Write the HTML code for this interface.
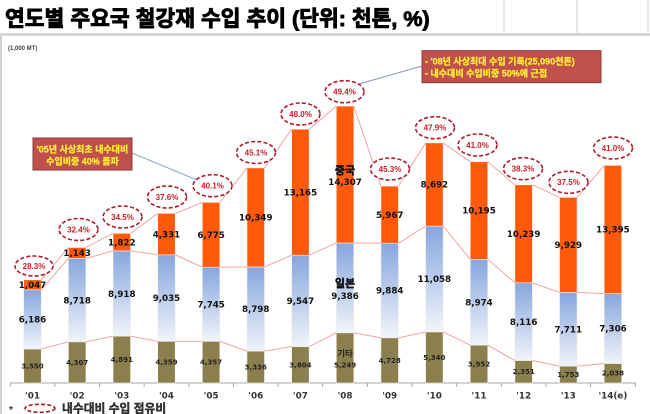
<!DOCTYPE html>
<html>
<head>
<meta charset="utf-8">
<style>
html,body{margin:0;padding:0;background:#fff;}
body{width:650px;height:414px;overflow:hidden;}
svg{display:block;}
.t{font-family:"Liberation Sans","Noto Sans CJK KR",sans-serif;font-weight:bold;}
.n{font-family:"DejaVu Sans","Noto Sans CJK KR",sans-serif;font-weight:bold;fill:#111;font-size:8.7px;text-anchor:middle;}
.s{font-family:"DejaVu Sans","Noto Sans CJK KR",sans-serif;font-weight:bold;fill:#222;font-size:7px;text-anchor:middle;}
.p{font-family:"Liberation Sans",sans-serif;font-weight:bold;fill:#c8202a;font-size:8px;text-anchor:middle;}
.x{font-family:"DejaVu Sans",sans-serif;font-weight:bold;fill:#333;font-size:8.8px;text-anchor:middle;}
.k{font-family:"Liberation Sans","Noto Sans CJK KR",sans-serif;font-weight:bold;}
</style>
</head>
<body>
<svg width="650" height="414" viewBox="0 0 650 414" xmlns="http://www.w3.org/2000/svg">
<defs>
<linearGradient id="bg" x1="0" y1="0" x2="0" y2="1">
<stop offset="0" stop-color="#86a6de"/>
<stop offset="1" stop-color="#f1f4fa"/>
</linearGradient>
</defs>

<!-- header -->
<text x="5" y="26" class="k" font-size="21.5" fill="#000" stroke="#000" stroke-width="0.9">연도별 주요국 철강재 수입 추이 (단위: 천톤, %)</text>
<line x1="504" y1="0" x2="504" y2="33" stroke="#d2d2d2" stroke-width="1"/>
<line x1="577" y1="0" x2="577" y2="33" stroke="#d2d2d2" stroke-width="1"/>
<line x1="648" y1="0" x2="648" y2="33" stroke="#d2d2d2" stroke-width="1"/>
<rect x="0" y="33" width="650" height="3" fill="#d6d6d6"/>
<line x1="1" y1="36" x2="1" y2="414" stroke="#cfcfcf" stroke-width="2"/>

<text x="8" y="50" class="t" font-size="6" fill="#444">(1,000 MT)</text>

<!-- axis -->
<line x1="10" y1="383" x2="636" y2="383" stroke="#a6a6a6" stroke-width="1"/>
<g stroke="#a6a6a6" stroke-width="1">
<line x1="10.2" y1="383" x2="10.2" y2="387"/>
<line x1="54.8" y1="383" x2="54.8" y2="387"/>
<line x1="99.5" y1="383" x2="99.5" y2="387"/>
<line x1="144.1" y1="383" x2="144.1" y2="387"/>
<line x1="188.8" y1="383" x2="188.8" y2="387"/>
<line x1="233.4" y1="383" x2="233.4" y2="387"/>
<line x1="278.1" y1="383" x2="278.1" y2="387"/>
<line x1="322.7" y1="383" x2="322.7" y2="387"/>
<line x1="367.4" y1="383" x2="367.4" y2="387"/>
<line x1="412.0" y1="383" x2="412.0" y2="387"/>
<line x1="456.7" y1="383" x2="456.7" y2="387"/>
<line x1="501.3" y1="383" x2="501.3" y2="387"/>
<line x1="546.0" y1="383" x2="546.0" y2="387"/>
<line x1="590.6" y1="383" x2="590.6" y2="387"/>
<line x1="635.3" y1="383" x2="635.3" y2="387"/>
</g>

<!-- bars -->
<g stroke="#f4efe6" stroke-width="0.6">
<rect x="23.75" y="349.0" width="17.5" height="34.0" fill="#8c7f4e"/>
<rect x="68.4" y="341.8" width="17.5" height="41.2" fill="#8c7f4e"/>
<rect x="113.05" y="336.2" width="17.5" height="46.8" fill="#8c7f4e"/>
<rect x="157.7" y="341.3" width="17.5" height="41.7" fill="#8c7f4e"/>
<rect x="202.35" y="341.3" width="17.5" height="41.7" fill="#8c7f4e"/>
<rect x="247.0" y="351.1" width="17.5" height="31.9" fill="#8c7f4e"/>
<rect x="291.65" y="346.6" width="17.5" height="36.4" fill="#8c7f4e"/>
<rect x="336.3" y="332.8" width="17.5" height="50.2" fill="#8c7f4e"/>
<rect x="380.95" y="337.8" width="17.5" height="45.2" fill="#8c7f4e"/>
<rect x="425.6" y="331.9" width="17.5" height="51.1" fill="#8c7f4e"/>
<rect x="470.25" y="345.2" width="17.5" height="37.8" fill="#8c7f4e"/>
<rect x="514.9" y="360.5" width="17.5" height="22.5" fill="#8c7f4e"/>
<rect x="559.55" y="366.2" width="17.5" height="16.8" fill="#8c7f4e"/>
<rect x="604.2" y="363.5" width="17.5" height="19.5" fill="#8c7f4e"/>
<rect x="23.75" y="289.8" width="17.5" height="59.2" fill="url(#bg)"/>
<rect x="68.4" y="258.4" width="17.5" height="83.4" fill="url(#bg)"/>
<rect x="113.05" y="250.9" width="17.5" height="85.3" fill="url(#bg)"/>
<rect x="157.7" y="254.8" width="17.5" height="86.5" fill="url(#bg)"/>
<rect x="202.35" y="267.2" width="17.5" height="74.1" fill="url(#bg)"/>
<rect x="247.0" y="266.9" width="17.5" height="84.2" fill="url(#bg)"/>
<rect x="291.65" y="255.2" width="17.5" height="91.4" fill="url(#bg)"/>
<rect x="336.3" y="243.0" width="17.5" height="89.8" fill="url(#bg)"/>
<rect x="380.95" y="243.2" width="17.5" height="94.6" fill="url(#bg)"/>
<rect x="425.6" y="226.1" width="17.5" height="105.8" fill="url(#bg)"/>
<rect x="470.25" y="259.3" width="17.5" height="85.9" fill="url(#bg)"/>
<rect x="514.9" y="282.8" width="17.5" height="77.7" fill="url(#bg)"/>
<rect x="559.55" y="292.4" width="17.5" height="73.8" fill="url(#bg)"/>
<rect x="604.2" y="293.6" width="17.5" height="69.9" fill="url(#bg)"/>
<rect x="23.75" y="279.8" width="17.5" height="10.0" fill="#ff5a0a"/>
<rect x="68.4" y="247.5" width="17.5" height="10.9" fill="#ff5a0a"/>
<rect x="113.05" y="233.4" width="17.5" height="17.5" fill="#ff5a0a"/>
<rect x="157.7" y="213.4" width="17.5" height="41.4" fill="#ff5a0a"/>
<rect x="202.35" y="202.4" width="17.5" height="64.8" fill="#ff5a0a"/>
<rect x="247.0" y="167.9" width="17.5" height="99.0" fill="#ff5a0a"/>
<rect x="291.65" y="129.2" width="17.5" height="126.0" fill="#ff5a0a"/>
<rect x="336.3" y="106.1" width="17.5" height="136.9" fill="#ff5a0a"/>
<rect x="380.95" y="186.1" width="17.5" height="57.1" fill="#ff5a0a"/>
<rect x="425.6" y="142.9" width="17.5" height="83.2" fill="#ff5a0a"/>
<rect x="470.25" y="161.7" width="17.5" height="97.6" fill="#ff5a0a"/>
<rect x="514.9" y="184.8" width="17.5" height="98.0" fill="#ff5a0a"/>
<rect x="559.55" y="197.4" width="17.5" height="95.0" fill="#ff5a0a"/>
<rect x="604.2" y="165.4" width="17.5" height="128.2" fill="#ff5a0a"/>
</g>

<!-- series lines -->
<g fill="none" stroke="#f29a9a" stroke-width="0.9">
<path d="M41.25,349.0L68.4,341.8M85.9,341.8L113.05,336.2M130.55,336.2L157.7,341.3M175.2,341.3L202.35,341.3M219.85,341.3L247.0,351.1M264.5,351.1L291.65,346.6M309.15,346.6L336.3,332.8M353.8,332.8L380.95,337.8M398.45,337.8L425.6,331.9M443.1,331.9L470.25,345.2M487.75,345.2L514.9,360.5M532.4,360.5L559.55,366.2M577.05,366.2L604.2,363.5"/>
<path d="M41.25,289.8L68.4,258.4M85.9,258.4L113.05,250.9M130.55,250.9L157.7,254.8M175.2,254.8L202.35,267.2M219.85,267.2L247.0,266.9M264.5,266.9L291.65,255.2M309.15,255.2L336.3,243.0M353.8,243.0L380.95,243.2M398.45,243.2L425.6,226.1M443.1,226.1L470.25,259.3M487.75,259.3L514.9,282.8M532.4,282.8L559.55,292.4M577.05,292.4L604.2,293.6"/>
<path d="M41.25,279.8L68.4,247.5M85.9,247.5L113.05,233.4M130.55,233.4L157.7,213.4M175.2,213.4L202.35,202.4M219.85,202.4L247.0,167.9M264.5,167.9L291.65,129.2M309.15,129.2L336.3,106.1M353.8,106.1L380.95,186.1M398.45,186.1L425.6,142.9M443.1,142.9L470.25,161.7M487.75,161.7L514.9,184.8M532.4,184.8L559.55,197.4M577.05,197.4L604.2,165.4"/>
</g>

<!-- leader lines -->
<line x1="359" y1="84" x2="422" y2="66" stroke="#8497b0" stroke-width="1"/>
<line x1="132" y1="153" x2="197" y2="180" stroke="#8eaacb" stroke-width="1"/>

<!-- percentage ellipses -->
<g fill="#fff" stroke="#b01c2e" stroke-width="1.6" stroke-dasharray="4 2.2">
<ellipse cx="34" cy="266" rx="19" ry="10"/>
<ellipse cx="78.5" cy="229.5" rx="19.5" ry="11"/>
<ellipse cx="122.5" cy="217" rx="19.5" ry="11"/>
<ellipse cx="167" cy="197" rx="19.5" ry="11"/>
<ellipse cx="212.5" cy="185.7" rx="19.5" ry="11"/>
<ellipse cx="256" cy="152.5" rx="19.5" ry="11"/>
<ellipse cx="300.5" cy="114" rx="19.5" ry="11"/>
<ellipse cx="344.5" cy="91.7" rx="19.5" ry="11"/>
<ellipse cx="390" cy="169" rx="19.5" ry="11"/>
<ellipse cx="435" cy="127.7" rx="19.5" ry="11"/>
<ellipse cx="477.5" cy="145" rx="19.5" ry="11"/>
<ellipse cx="523" cy="168.7" rx="19.5" ry="11"/>
<ellipse cx="568.5" cy="182.3" rx="19.5" ry="11"/>
<ellipse cx="613" cy="148" rx="19.5" ry="11"/>
</g>
<g class="p">
<text x="34" y="268.9">28.3%</text>
<text x="78.5" y="232.4">32.4%</text>
<text x="122.5" y="219.9">34.5%</text>
<text x="167" y="199.9">37.6%</text>
<text x="212.5" y="188.6">40.1%</text>
<text x="256" y="155.4">45.1%</text>
<text x="300.5" y="116.9">48.0%</text>
<text x="344.5" y="94.6">49.4%</text>
<text x="390" y="171.9">45.3%</text>
<text x="435" y="130.6">47.9%</text>
<text x="477.5" y="147.9">41.0%</text>
<text x="523" y="171.6">38.3%</text>
<text x="568.5" y="185.2">37.5%</text>
<text x="613" y="150.9">41.0%</text>
</g>

<!-- orange labels -->
<g class="n">
<text x="32.5" y="288">1,047</text>
<text x="77.15" y="256.2">1,143</text>
<text x="121.8" y="245.3">1,822</text>
<text x="166.45" y="237.3">4,331</text>
<text x="211.1" y="238">6,775</text>
<text x="255.75" y="220.6">10,349</text>
<text x="300.4" y="195.4">13,165</text>
<text x="345.05" y="185">14,307</text>
<text x="389.7" y="217.8">5,967</text>
<text x="434.35" y="187.7">8,692</text>
<text x="479.0" y="213.7">10,195</text>
<text x="523.65" y="236.9">10,239</text>
<text x="568.3" y="248">9,929</text>
<text x="612.95" y="232.7">13,395</text>
</g>
<text x="345.05" y="174" class="k" font-size="11" fill="#111" stroke="#111" stroke-width="0.4" text-anchor="middle">중국</text>

<!-- blue labels -->
<g class="n">
<text x="32.5" y="322.6">6,186</text>
<text x="77.15" y="303.3">8,718</text>
<text x="121.8" y="296.8">8,918</text>
<text x="166.45" y="301.2">9,035</text>
<text x="211.1" y="307.4">7,745</text>
<text x="255.75" y="312.2">8,798</text>
<text x="300.4" y="304.1">9,547</text>
<text x="345.05" y="298.9">9,386</text>
<text x="389.7" y="293.7">9,884</text>
<text x="434.35" y="282.2">11,058</text>
<text x="479.0" y="305.4">8,974</text>
<text x="523.65" y="324.8">8,116</text>
<text x="568.3" y="332.5">7,711</text>
<text x="612.95" y="331.7">7,306</text>
</g>
<text x="345.05" y="286.8" class="k" font-size="11" fill="#111" stroke="#111" stroke-width="0.4" text-anchor="middle">일본</text>

<!-- olive labels -->
<g class="s">
<text x="32.5" y="368.5">3,550</text>
<text x="77.15" y="364.9">4,307</text>
<text x="121.8" y="362.1">4,891</text>
<text x="166.45" y="364.6">4,359</text>
<text x="211.1" y="364.6">4,357</text>
<text x="255.75" y="369.5">3,336</text>
<text x="300.4" y="367.3">3,804</text>
<text x="345.05" y="367.5">5,249</text>
<text x="389.7" y="362.9">4,728</text>
<text x="434.35" y="359.9">5,340</text>
<text x="479.0" y="366.6">3,952</text>
<text x="523.65" y="374.2">2,351</text>
<text x="568.3" y="377.1">1,753</text>
<text x="612.95" y="375.7">2,038</text>
</g>
<text x="345.05" y="356.5" class="k" font-size="8.5" fill="#222" text-anchor="middle">기타</text>

<!-- x labels -->
<g class="x">
<text x="32.5" y="398.5">'01</text>
<text x="77.15" y="398.5">'02</text>
<text x="121.8" y="398.5">'03</text>
<text x="166.45" y="398.5">'04</text>
<text x="211.1" y="398.5">'05</text>
<text x="255.75" y="398.5">'06</text>
<text x="300.4" y="398.5">'07</text>
<text x="345.05" y="398.5">'08</text>
<text x="389.7" y="398.5">'09</text>
<text x="434.35" y="398.5">'10</text>
<text x="479.0" y="398.5">'11</text>
<text x="523.65" y="398.5">'12</text>
<text x="568.3" y="398.5">'13</text>
<text x="612.95" y="398.5">'14(e)</text>
</g>

<!-- callout boxes -->
<rect x="422" y="50.7" width="179" height="32" fill="#c0504d" stroke="#8c3a38" stroke-width="1"/>
<text x="425" y="64.5" class="k" font-size="9" fill="#ffee33" stroke="#ffee33" stroke-width="0.3">- '08년 사상최대 수입 기록(25,090천톤)</text>
<text x="425" y="76.6" class="k" font-size="9" fill="#ffee33" stroke="#ffee33" stroke-width="0.3">- 내수대비 수입비중 50%에 근접</text>

<rect x="33" y="138" width="99" height="32" fill="#c0504d" stroke="#8c3a38" stroke-width="1"/>
<text x="82.5" y="152.3" class="k" font-size="9" fill="#ffee33" stroke="#ffee33" stroke-width="0.3" text-anchor="middle">'05년 사상최초 내수대비</text>
<text x="82.5" y="164.3" class="k" font-size="9" fill="#ffee33" stroke="#ffee33" stroke-width="0.3" text-anchor="middle">수입비중 40% 돌파</text>

<!-- legend -->
<text x="9" y="413" class="t" font-size="10" fill="#333">*</text>
<ellipse cx="40" cy="408.3" rx="15" ry="4" fill="none" stroke="#b01c2e" stroke-width="1.6" stroke-dasharray="4 2.2"/>
<text x="62" y="412.3" class="k" font-size="11.8" fill="#333" stroke="#333" stroke-width="0.45">내수대비 수입 점유비</text>
</svg>
</body>
</html>
